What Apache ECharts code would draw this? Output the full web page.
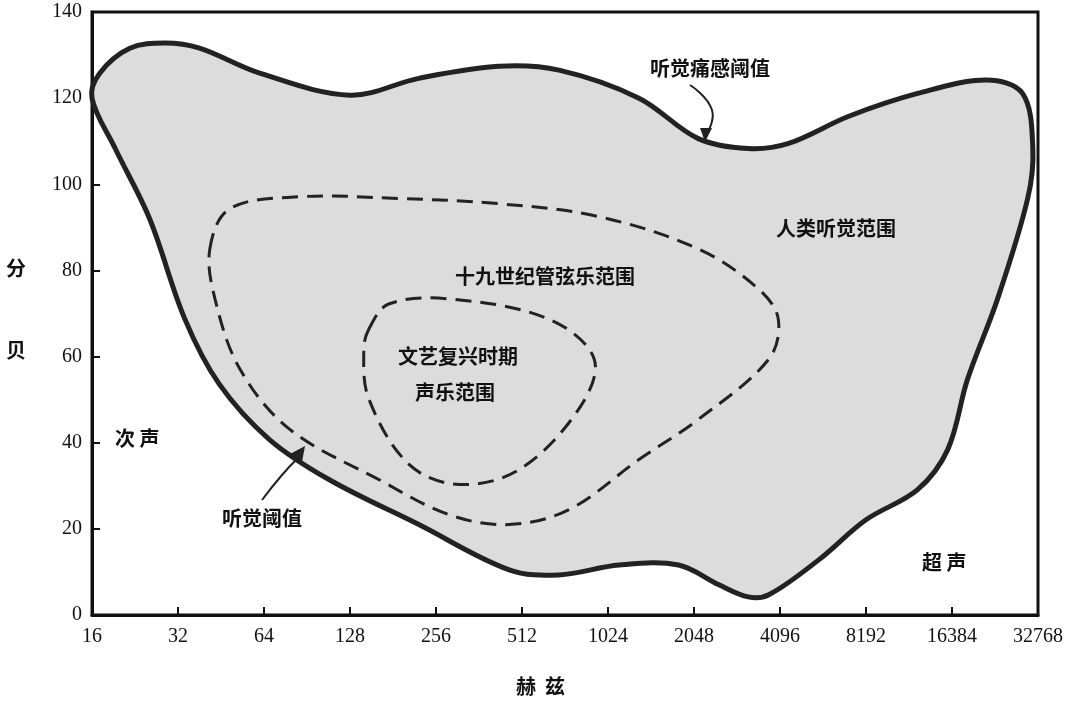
<!DOCTYPE html><html><head><meta charset="utf-8"><script src="https://cdn.jsdelivr.net/npm/echarts@6/dist/echarts.min.js"></script></head><body style="margin:0;background:#fff"><div id="c" style="width:1080px;height:701px"></div><script>
const xTicks=[16,32,64,128,256,512,1024,2048,4096,8192,16384,32768];
// [log2(Hz), dB]
const hearing=[[4,120],[4.09,125.8],[4.44,131.6],[4.85,132.8],[5.25,131.6],[5.95,125.8],[7.0,120.7],[7.8,124.6],[8.73,127.4],[9.43,126.5],[10.36,120],[11.05,110.6],[11.63,108.3],[12.1,109.5],[12.8,115.8],[13.6,121.1],[14.4,124.2],[14.82,121.1],[14.94,108.3],[14.88,96.7],[14.53,73.4],[14.18,54.7],[13.95,38.4],[13.6,29.1],[13.0,22.1],[12.45,12.8],[11.87,4.7],[11.63,4.2],[11.29,7.0],[10.82,11.6],[10.13,11.6],[9.43,9.3],[8.85,10.5],[7.8,21],[6.76,31.4],[6.06,40.8],[5.48,53.6],[5.08,68.7],[4.67,92],[4.27,108.3]];
const orchestra=[[5.37,85],[5.6,94.3],[6.41,97.1],[7.57,96.7],[8.73,95.5],[9.89,92.5],[11.05,85],[11.75,75.7],[11.98,68.7],[11.87,59.4],[11.05,45.4],[10.36,36.1],[9.55,24.5],[8.85,21],[8.15,23.3],[7.34,31.4],[6.3,43.1],[5.72,57.1],[5.43,73.4]];
const renaissance=[[7.22,66.4],[7.45,72.2],[8.15,73.4],[9.31,68.7],[9.84,59.4],[9.66,47.8],[8.97,33.8],[8.27,30.3],[7.69,34.9],[7.22,50.1],[7.16,61.5]];
function poly(pts,style){return {type:'custom',coordinateSystem:'cartesian2d',data:[0],clip:false,z:1,
 renderItem:(p,api)=>({type:'polygon',shape:{points:pts.map(q=>api.coord(q)),smooth:0.35},style:style})};}
const F='"Noto Sans CJK SC"';
function t(x,y,s,size){return {type:'text',left:x,top:y,z:100,style:{text:s,font:'bold '+(size||20)+'px '+F,fill:'#111'}};}
const ch=echarts.init(document.getElementById('c'));
ch.setOption({animation:false,
grid:{left:92,right:42,top:12,bottom:86,show:true,borderColor:'#111',borderWidth:3},
xAxis:{type:'value',min:4,max:15,interval:1,axisLine:{lineStyle:{color:'#111',width:3}},axisTick:{inside:true,length:8,lineStyle:{color:'#111',width:2}},splitLine:{show:false},
 axisLabel:{formatter:v=>xTicks[Math.round(v)-4],color:'#111',fontFamily:'Liberation Serif',fontSize:20,margin:12}},
yAxis:{type:'value',min:0,max:140,interval:20,axisLine:{show:true,lineStyle:{color:'#111',width:3}},axisTick:{show:true,inside:true,length:8,lineStyle:{color:'#111',width:2}},splitLine:{show:false},
 axisLabel:{color:'#111',fontFamily:'Liberation Serif',fontSize:20,margin:10}},
series:[poly(hearing,{fill:'#dcdcdc',stroke:'#222',lineWidth:5}),
 poly(orchestra,{fill:'none',stroke:'#222',lineWidth:3,lineDash:[16,9]}),
 poly(renaissance,{fill:'none',stroke:'#222',lineWidth:3,lineDash:[16,9]})],
graphic:[t(650,58,'听觉痛感阈值'),t(776,218,'人类听觉范围'),t(455,266,'十九世纪管弦乐范围'),t(398,346,'文艺复兴时期'),t(415,382,'声乐范围'),
 t(115,428,'次 声'),t(222,508,'听觉阈值'),t(922,552,'超 声'),t(6,258,'分'),t(6,340,'贝'),t(516,676,'赫  兹'),
 {type:'polyline',z:100,shape:{points:[[690,85],[712,110],[706,135]],smooth:0.5},style:{stroke:'#222',lineWidth:2,fill:'none'}},
 {type:'polygon',z:100,shape:{points:[[700,128],[712,128],[705,142]]},style:{fill:'#222'}},
 {type:'polyline',z:100,shape:{points:[[262,500],[282,475],[298,458]],smooth:0.5},style:{stroke:'#222',lineWidth:2,fill:'none'}},
 {type:'polygon',z:100,shape:{points:[[290,454],[302,462],[305,446]]},style:{fill:'#222'}}
]});
</script></body></html>
